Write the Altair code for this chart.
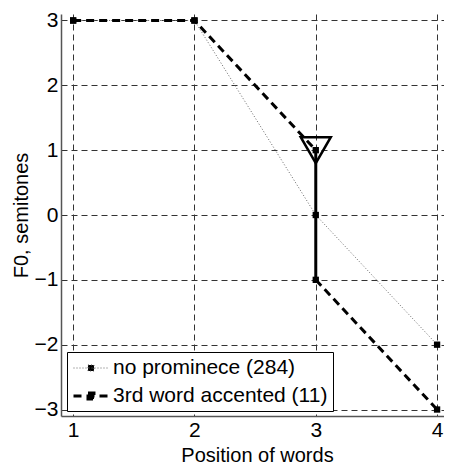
import altair as alt
import pandas as pd

# ---- data ----
positions = [1, 2, 3, 4]
no_prominence = [3, 3, 0, -2]
accented_x = [1, 2, 3, 3, 4]
accented_y = [3, 3, 1, -1, -3]
series_names = ["no prominece (284)", "3rd word accented (11)"]
x_ticks = [1, 2, 3, 4]
y_ticks = [-3, -2, -1, 0, 1, 2, 3]

FONT = "Liberation Sans"

rows = []
for i, (x, y) in enumerate(zip(positions, no_prominence)):
    rows.append(dict(series=series_names[0], x=x, y=y, part="np", order=i))
for i, (x, y) in enumerate(zip(accented_x, accented_y)):
    rows.append(dict(series=series_names[1], x=x, y=y,
                     part="a1" if i <= 2 else "a2", order=i))
lines = pd.DataFrame(rows)

accent = pd.DataFrame({"x": accented_x[2:4], "y": accented_y[2:4]})
peak = pd.DataFrame({"x": [accented_x[2]], "y": [accented_y[2]]})
pts = lines[["x", "y"]]

xs = alt.Scale(domain=[0.9, 4.057], nice=False, zero=False)
ys = alt.Scale(domain=[-3.1, 3.1], nice=False, zero=False)

x_axis = alt.Axis(values=x_ticks, format="d", title="Position of words",
                  labelPadding=3, titleX=196, titleY=45.5,
                  titleBaseline="alphabetic")
y_axis = alt.Axis(values=y_ticks, format="d", title="F0, semitones",
                  labelPadding=3, titleX=-34, titleY=201,
                  titleBaseline="alphabetic")

# legend symbol: a 35px line sample with a small square in its middle
legend = alt.Legend(
    title=None, orient="none", legendX=6, legendY=338,
    strokeColor="black", fillColor="white", padding=5,
    symbolType="M-1,0H2.33M0.38,-0.29H0.95V0.29H0.38Z",
    symbolSize=441, symbolFillColor="black",
    labelFontSize=21, labelFont=FONT, labelColor="black",
    labelOffset=17, rowPadding=6, labelLimit=400,
)

base_x = alt.X("x:Q", scale=xs, axis=x_axis)
base_y = alt.Y("y:Q", scale=ys, axis=y_axis)

line_layer = alt.Chart(lines).mark_line().encode(
    x=base_x, y=base_y,
    color=alt.Color("series:N", scale=alt.Scale(domain=series_names,
                                                 range=["#666666", "black"]),
                    legend=legend),
    strokeDash=alt.StrokeDash("series:N", scale=alt.Scale(domain=series_names,
                                                           range=[[1, 2], [8, 5]]),
                              legend=legend),
    strokeWidth=alt.StrokeWidth("series:O", scale=alt.Scale(domain=series_names,
                                                             range=[1, 3]),
                                legend=legend),
    detail="part:N",
    order="order:Q",
)

accent_layer = alt.Chart(accent).mark_line(color="black", strokeWidth=3).encode(
    x="x:Q", y="y:Q")

point_layer = alt.Chart(pts).mark_point(shape="square", filled=True, size=40,
                                        color="black", opacity=1).encode(
    x="x:Q", y="y:Q")

peak_layer = alt.Chart(peak).mark_point(shape="triangle-down", filled=False,
                                        size=900, color="black",
                                        strokeWidth=2.5, opacity=1).encode(
    x="x:Q", y="y:Q")

chart = alt.layer(line_layer, accent_layer, point_layer, peak_layer).properties(
    width=383, height=402,
    padding={"left": 53, "top": 6, "right": 0, "bottom": 50},
    autosize=alt.AutoSizeParams(type="none"),
).configure_view(stroke=None).configure_axis(
    grid=True, gridDash=[6, 4], gridColor="#333333", gridWidth=1, gridOpacity=1,
    domainColor="#555555", domainWidth=1.5, ticks=False,
    labelFont=FONT, labelFontSize=21, labelColor="black",
    titleFont=FONT, titleFontSize=20, titleFontWeight="normal", titleColor="black",
)

chart.save("out.html", embed_options={"renderer": "svg", "actions": False})
